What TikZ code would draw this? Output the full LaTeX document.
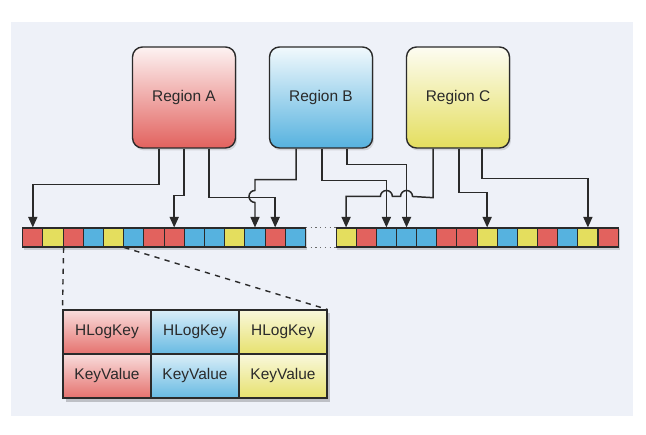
\documentclass[tikz,border=0pt]{standalone}
\usepackage{fontspec}
\setmainfont{Liberation Sans}
\usepackage{tikz}
\usetikzlibrary{positioning,arrows.meta,calc,shadows}
\definecolor{cred}{HTML}{E2625E}
\definecolor{cblue}{HTML}{56B2DF}
\definecolor{cyellow}{HTML}{E4DE5E}
\definecolor{bgpanel}{HTML}{EEF1F8}
\definecolor{ink}{HTML}{2A2A2A}

\begin{document}
\begin{tikzpicture}[x=0.02cm, y=0.02cm,
    region/.style={draw=ink, line width=0.8pt, rounded corners=0.2cm,
      minimum width=2.06cm, minimum height=2.02cm,
      font=\fontsize{8.8}{10}\selectfont, text=ink,
      drop shadow={opacity=0.25, shadow xshift=0.03cm, shadow yshift=-0.05cm}},
    cell/.style={draw=ink, line width=0.6pt, minimum width=0.403cm,
      minimum height=0.38cm, inner sep=0pt},
    entry/.style={draw=ink, line width=0.6pt, minimum width=1.76cm,
      minimum height=0.88cm, inner sep=0pt,
      font=\fontsize{8.8}{10}\selectfont, text=ink},
    link/.style={ink, line width=0.85pt, -{Triangle[length=0.21cm, width=0.18cm]}}]
        % Panel
        \useasboundingbox (0,0) rectangle (646,435);
        \fill[bgpanel] (11,19) rectangle (633,413);

        % Regions
        \node[region, top color=cred!8, bottom color=cred] (ra) at (184,337.5) {Region A};
        \node[region, top color=cblue!8, bottom color=cblue] (rb) at (321,337.5) {Region B};
        \node[region, top color=cyellow!8, bottom color=cyellow] (rc) at (458,337.5) {Region C};

        % Log strips
        \fill[black, opacity=0.15] (24,185) rectangle (307,206);
        \fill[black, opacity=0.15] (337,185) rectangle (620,206);
        \foreach \c [count=\i from 0] in {cred,cyellow,cred,cblue,cyellow,cblue,cred,cred,cblue,cblue,cyellow,cblue,cred,cblue}
          \node[cell, fill=\c] (a\i) at (32.8+20.2*\i,197.5) {};
        \foreach \c [count=\i from 0] in {cyellow,cred,cblue,cblue,cblue,cred,cred,cyellow,cblue,cyellow,cred,cblue,cyellow,cred}
          \node[cell, fill=\c] (b\i) at (346.1+20.15*\i,197.5) {};
        \draw[ink!70, dotted, line width=0.7pt] (a13.north east) -- (b0.north west);
        \draw[ink!70, dotted, line width=0.7pt] (a13.south east) -- (b0.south west);

        % Writes from region A
        \draw[link] ([xshift=-0.5cm]ra.south) -- ++(0,-36) -| (a0.north);
        \draw[link] (ra.south) -- ++(0,-47) -| (a7.north);
        \draw[link] ([xshift=0.5cm]ra.south) -- ++(0,-49) -| (a12.north);

        % Writes from region B
        \draw[link] ([xshift=-0.5cm]rb.south) -- ++(0,-31) -| ($(a11.north)+(0,37)$)
          arc[start angle=90, end angle=270, radius=0.12cm] -- (a11.north);
        \draw[link] ([xshift=0.02cm]rb.south) -- ++(0,-32) -| (b2.north);
        \draw[link] ([xshift=0.52cm]rb.south) -- ++(0,-16) -| (b3.north);

        % Writes from region C
        \draw[link] ([xshift=-0.5cm]rc.south) -- ++(0,-49)
          -- ($(b3.north)+(6,31)$) arc[start angle=0, end angle=180, radius=0.12cm]
          -- ($(b2.north)+(6,31)$) arc[start angle=0, end angle=180, radius=0.12cm]
          -| (b0.north);
        \draw[link] ([xshift=0.02cm]rc.south) -- ++(0,-44) -| (b7.north);
        \draw[link] ([xshift=0.48cm]rc.south) -- ++(0,-30) -| (b12.north);

        % Entry detail
        \fill[black, opacity=0.2] (66,33) rectangle (330,122);
        \foreach \c [count=\k] in {cred,cblue,cyellow} {
          \node[entry, top color=\c!22, bottom color=\c!90] (key\k) at (19+88*\k,103) {HLogKey};
          \node[entry, top color=\c!22, bottom color=\c!90] (kv\k) at (19+88*\k,59) {KeyValue};
        }
        \draw[ink, line width=0.9pt] (key1.north west) rectangle (kv3.south east);
        \draw[ink, dashed, line width=0.8pt] (a1.south east) -- (key1.north west);
        \draw[ink, dashed, line width=0.8pt] (a4.south east) -- (key3.north east);
      \end{tikzpicture}
\end{document}
